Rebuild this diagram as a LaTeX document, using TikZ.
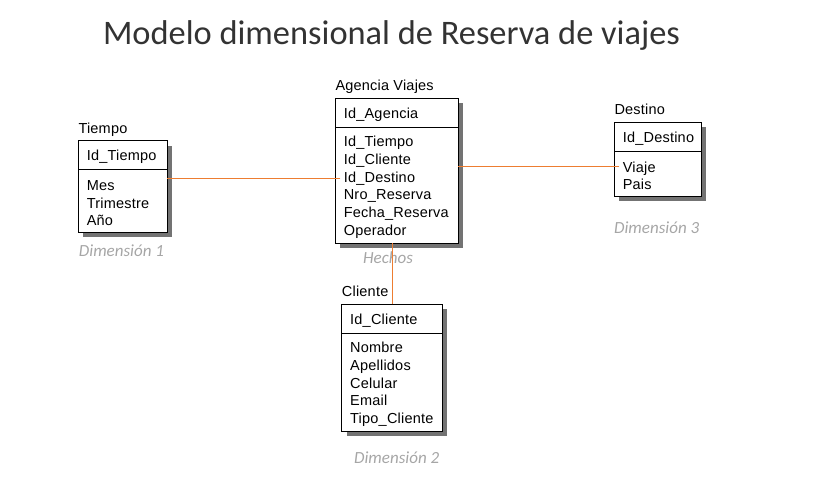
\documentclass[tikz,border=0pt]{standalone}
\usepackage{fontspec}
\setmainfont{Liberation Sans}[LetterSpace=1.5]
\newfontfamily\calfont{Carlito}
\usetikzlibrary{positioning,backgrounds}
\definecolor{relorange}{RGB}{237,125,49}
\definecolor{dimgray}{RGB}{166,166,166}
\begin{document}
\begin{tikzpicture}[x=1pt,y=-1pt,
  ent/.style={draw, fill=white, line width=1pt, outer sep=0pt, align=left,
    inner xsep=8.5pt, inner ysep=0pt, font=\fontsize{14.5}{17.8}\selectfont,
    execute at begin node={\rule{0pt}{14.6pt}}},
  entkey/.style={ent, minimum height=29pt, anchor=north west},
  entname/.style={anchor=base west, inner sep=0pt, font=\fontsize{14.5}{17.8}\selectfont},
  dimtxt/.style={text=dimgray, inner sep=0pt, font=\calfont\itshape\fontsize{17}{20}\selectfont},
  rel/.style={draw=relorange, line width=0.9pt},
  shadowbox/.style={fill=black!55}]
\useasboundingbox (0,0) rectangle (825,482);
\node[anchor=base, font=\calfont\fontsize{34.4}{40}\selectfont, text=black!80] (title) at (391.5,44) {Modelo dimensional de Reserva de viajes};

% Tiempo
\node[entkey, text width=72pt] (th) at (78.3,140.7) {Id\_Tiempo};
\node[ent, text width=72pt, minimum height=62.4pt, below=0pt of th] (tb) {Mes\\Trimestre\\Año};
\node[entname] (tn) at ([yshift=7.5pt]th.north west) {Tiempo};
\node[dimtxt] (d1) at (121.5,251) {Dimensión 1};

% Agencia Viajes
\node[entkey, text width=106pt] (ah) at (335.3,98.3) {Id\_Agencia};
\node[ent, text width=106pt, minimum height=116pt, below=0pt of ah] (ab) {Id\_Tiempo\\Id\_Cliente\\Id\_Destino\\Nro\_Reserva\\Fecha\_Reserva\\Operador};
\node[entname] (an) at ([yshift=7.5pt]ah.north west) {Agencia Viajes};
\node[dimtxt] (hx) at (388,258) {Hechos};

% Destino
\node[entkey, text width=70pt] (dh) at (614.3,122.3) {Id\_Destino};
\node[ent, text width=70pt, minimum height=45pt, below=0pt of dh] (db) {Viaje\\Pais};
\node[entname] (dn) at ([yshift=7.5pt]dh.north west) {Destino};
\node[dimtxt] (d3) at (656.7,227.7) {Dimensión 3};

% Cliente
\node[entkey, text width=83.6pt] (ch) at (341.7,304.3) {Id\_Cliente};
\node[ent, text width=83.6pt, minimum height=98pt, below=0pt of ch] (cb) {Nombre\\Apellidos\\Celular\\Email\\Tipo\_Cliente};
\node[entname] (cn) at ([yshift=7.5pt]ch.north west) {Cliente};
\node[dimtxt] (d2) at (396.7,457.3) {Dimensión 2};

\begin{scope}[on background layer]
\foreach \h/\b in {th/tb,ah/ab,dh/db,ch/cb} {\fill[shadowbox] ([xshift=5pt,yshift=-5pt]\h.north west) rectangle ([xshift=5pt,yshift=-5pt]\b.south east);}
\end{scope}

% relaciones
\coordinate (fkt) at ([xshift=5pt,yshift=7pt]ab.west);
\draw[rel] (fkt) -- (fkt -| tb.east);
\coordinate (fkd) at ([xshift=5pt,yshift=7.5pt]db.west);
\draw[rel] (fkd) -- (fkd -| ab.east);
\draw[rel] (ch.north) -- (ch.north |- ab.south);
\end{tikzpicture}
\end{document}
